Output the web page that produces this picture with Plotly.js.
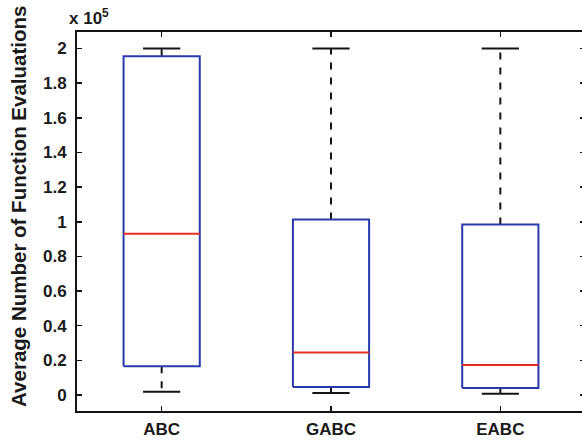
<!DOCTYPE html>
<html>
<head>
<meta charset="utf-8">
<script src="https://cdn.plot.ly/plotly-3.0.1.min.js"></script>
<style>
html,body{margin:0;padding:0;overflow:hidden;background:#fff;}
#chart{width:590px;height:441px;}
</style>
</head>
<body>
<div id="chart"></div>
<script>
// Data (values in units of 10^5)
const categories = ['ABC', 'GABC', 'EABC'];
const lowerWhisker = [0.019, 0.012, 0.008];
const q1 = [0.166, 0.046, 0.040];
const medians = [0.931, 0.245, 0.173];
const q3 = [1.955, 1.013, 0.984];
const upperWhisker = [2.0, 2.0, 2.0];
const yTickVals = [0, 0.2, 0.4, 0.6, 0.8, 1, 1.2, 1.4, 1.6, 1.8, 2];
const yTickText = ['0', '0.2', '0.4', '0.6', '0.8', '1', '1.2', '1.4', '1.6', '1.8', '2'];

const boxHalf = 0.225;
const capHalf = 0.11;
const blue = 'rgb(40,58,170)';
const red = 'rgb(232,45,35)';
const black = 'rgb(20,20,20)';

const wx = [], wy = [], cx = [], cy = [], bx = [], by = [], mx = [], my = [];
categories.forEach((c, i) => {
  const p = i + 1;
  wx.push(p, p, null, p, p, null);
  wy.push(q3[i], upperWhisker[i], null, q1[i], lowerWhisker[i], null);
  cx.push(p - capHalf, p + capHalf, null, p - capHalf, p + capHalf, null);
  cy.push(upperWhisker[i], upperWhisker[i], null, lowerWhisker[i], lowerWhisker[i], null);
  bx.push(p - boxHalf, p + boxHalf, p + boxHalf, p - boxHalf, p - boxHalf, null);
  by.push(q1[i], q1[i], q3[i], q3[i], q1[i], null);
  mx.push(p - boxHalf, p + boxHalf, null);
  my.push(medians[i], medians[i], null);
});

const traces = [
  {x: wx, y: wy, mode: 'lines', line: {color: black, width: 2, dash: '7px,8px'}, hoverinfo: 'skip'},
  {x: cx, y: cy, mode: 'lines', line: {color: black, width: 2}, hoverinfo: 'skip'},
  {x: bx, y: by, mode: 'lines', line: {color: blue, width: 2}, hoverinfo: 'skip'},
  {x: mx, y: my, mode: 'lines', line: {color: red, width: 2}, hoverinfo: 'skip'}
];

const fam = 'Arial, "Liberation Sans", sans-serif';
const font = {family: fam, size: 17, color: '#1a1a1a', weight: 'bold'};

const layout = {
  width: 590, height: 441,
  margin: {l: 77, r: 5, t: 32, b: 30},
  paper_bgcolor: '#fff', plot_bgcolor: '#fff',
  showlegend: false,
  font: font,
  xaxis: {
    range: [0.5, 3.5],
    tickvals: [1, 2, 3], ticktext: categories,
    ticks: 'inside', ticklen: 5, tickwidth: 1.5, tickcolor: black,
    showline: true, linecolor: black, linewidth: 2, mirror: 'ticks',
    showgrid: false, zeroline: false,
    tickfont: font, ticklabelstandoff: 2
  },
  yaxis: {
    range: [-0.092, 2.095],
    tickvals: yTickVals, ticktext: yTickText,
    ticks: 'inside', ticklen: 5, tickwidth: 1.5, tickcolor: black,
    showline: true, linecolor: black, linewidth: 2, mirror: 'ticks',
    showgrid: false, zeroline: false,
    tickfont: font, ticklabelstandoff: 5
  },
  annotations: [
    {text: 'x 10<sup>5</sup>', xref: 'paper', yref: 'paper', x: -0.02, y: 1.04,
     xanchor: 'left', yanchor: 'middle', showarrow: false,
     font: {family: fam, size: 17, color: '#1a1a1a', weight: 'bold'}},
    {text: 'Average Number of Function Evaluations', xref: 'paper', yref: 'paper',
     x: -0.115, y: 0.54, xanchor: 'center', yanchor: 'middle', textangle: -90, showarrow: false,
     font: {family: fam, size: 20.5, color: '#1a1a1a', weight: 'bold'}}
  ]
};

Plotly.newPlot('chart', traces, layout, {displayModeBar: false, staticPlot: true});
</script>
</body>
</html>
